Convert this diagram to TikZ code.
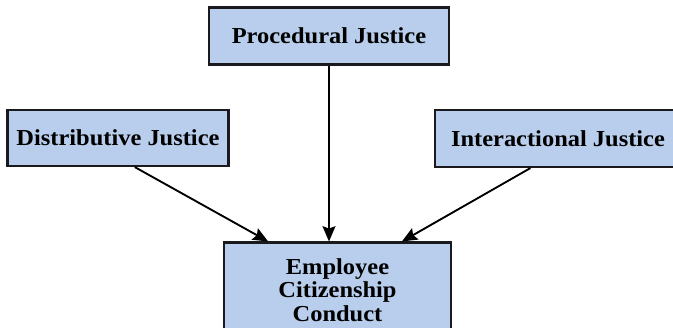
\documentclass[tikz,border=0pt]{standalone}
\usepackage{fontspec}
\setmainfont[FakeStretch=1.07]{Liberation Serif}
\usepackage{tikz}
\usetikzlibrary{arrows.meta,positioning}
\definecolor{boxcolor}{RGB}{184, 206, 236}
\definecolor{edgecolor}{RGB}{25, 25, 30}

\begin{document}
\begin{tikzpicture}[
    x=0.03cm, y=-0.03cm,
    factor/.style={rectangle, draw=edgecolor, line width=1.8pt, fill=boxcolor, align=center,
        font=\bfseries\fontsize{19.5}{20}\selectfont},
    arrow/.style={-{Stealth[length=13pt, width=11pt, inset=2pt]}, line width=1.6pt}
]
    \path[use as bounding box, clip] (0,0) rectangle (673,327);

    % Three justice factors
    \node[factor, minimum width=7.2cm, minimum height=1.71cm] (proc) at (329, 36) {Procedural Justice};
    \node[factor, minimum width=6.63cm, minimum height=1.68cm] (dist) at (118, 138) {Distributive Justice};
    \node[factor, minimum width=7.4cm, minimum height=1.71cm] (inter) at (558, 138.5) {Interactional Justice};

    % Outcome
    \node[factor, minimum width=6.81cm, minimum height=2.85cm] (emp) at (337.5, 290) {Employee\\Citizenship\\Conduct};

    % Arrows
    \draw[arrow] (proc.south) -- (proc.south |- emp.north);
    \draw[arrow] (dist.-60) -- (emp.145);
    \draw[arrow] (inter.-133) -- (emp.37);
\end{tikzpicture}
\end{document}
